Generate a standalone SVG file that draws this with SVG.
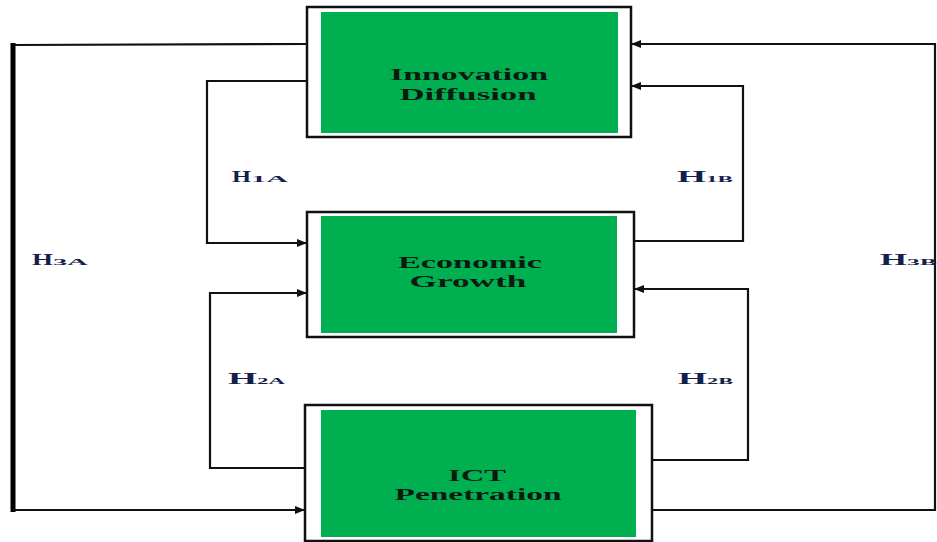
<svg xmlns="http://www.w3.org/2000/svg" width="937" height="542" viewBox="0 0 937 542">
  <style>
    .frame { fill: #ffffff; stroke: #111111; stroke-width: 2.5; }
    .fill { fill: #00b050; }
    .node-text { font-family: "Liberation Serif", "Times New Roman", serif; font-weight: bold; font-size: 17px; fill: #0d1a12; text-anchor: middle; }
    .wire { fill: none; stroke: #111111; stroke-width: 2.2; }
    .wire-thick { fill: none; stroke: #000000; stroke-width: 5; }
    .lbl { font-family: "Liberation Serif", "Times New Roman", serif; font-weight: bold; font-size: 17px; fill: #15204a; }
    .sub { font-size: 9px; }
  </style>
  <defs>
    <marker id="arrow" markerUnits="userSpaceOnUse" markerWidth="10" markerHeight="8" refX="10" refY="4" orient="auto">
      <path d="M0,0 L10,4 L0,8 Z" fill="#111111"/>
    </marker>
  </defs>

  <!-- connectors -->
  <g id="connectors">
    <!-- H3A: Innovation Diffusion -> ICT Penetration, outer left loop -->
    <polyline class="wire" points="307,44 13,45"/>
    <line class="wire-thick" x1="13" y1="43" x2="13" y2="512"/>
    <polyline class="wire" points="13,510 305,510" marker-end="url(#arrow)"/>
    <!-- H1A: Innovation Diffusion -> Economic Growth -->
    <polyline class="wire" points="307,81 207,81 207,243 307,243" marker-end="url(#arrow)"/>
    <!-- H2A: ICT Penetration -> Economic Growth -->
    <polyline class="wire" points="305,468 210,468 210,293 307,293" marker-end="url(#arrow)"/>
    <!-- H1B: Economic Growth -> Innovation Diffusion -->
    <polyline class="wire" points="634,241 743,241 743,86 631,86" marker-end="url(#arrow)"/>
    <!-- H2B: ICT Penetration -> Economic Growth -->
    <polyline class="wire" points="652,460 748,460 748,289 634,289" marker-end="url(#arrow)"/>
    <!-- H3B: ICT Penetration -> Innovation Diffusion, outer right loop -->
    <polyline class="wire" points="652,510 935,510 935,44 631,44" marker-end="url(#arrow)"/>
  </g>

  <!-- labels -->
  <g id="labels">
    <text class="lbl" x="232" y="182"><tspan textLength="19" lengthAdjust="spacingAndGlyphs">H</tspan><tspan class="sub" textLength="37" lengthAdjust="spacingAndGlyphs">1A</tspan></text>
    <text class="lbl" x="677" y="182"><tspan textLength="29" lengthAdjust="spacingAndGlyphs">H</tspan><tspan class="sub" textLength="27" lengthAdjust="spacingAndGlyphs">1B</tspan></text>
    <text class="lbl" x="32" y="265"><tspan textLength="21" lengthAdjust="spacingAndGlyphs">H</tspan><tspan class="sub" textLength="35" lengthAdjust="spacingAndGlyphs">3A</tspan></text>
    <text class="lbl" x="880" y="265"><tspan textLength="27" lengthAdjust="spacingAndGlyphs">H</tspan><tspan class="sub" textLength="30" lengthAdjust="spacingAndGlyphs">3B</tspan></text>
    <text class="lbl" x="228" y="384"><tspan textLength="29" lengthAdjust="spacingAndGlyphs">H</tspan><tspan class="sub" textLength="28" lengthAdjust="spacingAndGlyphs">2A</tspan></text>
    <text class="lbl" x="678" y="384"><tspan textLength="29" lengthAdjust="spacingAndGlyphs">H</tspan><tspan class="sub" textLength="26" lengthAdjust="spacingAndGlyphs">2B</tspan></text>
  </g>

  <!-- nodes -->
  <g id="innovation-diffusion">
    <rect class="frame" x="307" y="7" width="324" height="130"/>
    <rect class="fill" x="321" y="12" width="297" height="121"/>
    <text class="node-text" x="469" y="80" textLength="158" lengthAdjust="spacingAndGlyphs">Innovation</text>
    <text class="node-text" x="468" y="100" textLength="137" lengthAdjust="spacingAndGlyphs">Diffusion</text>
  </g>

  <g id="economic-growth">
    <rect class="frame" x="307" y="212" width="327" height="125"/>
    <rect class="fill" x="321" y="216" width="296" height="117"/>
    <text class="node-text" x="470" y="268" textLength="144" lengthAdjust="spacingAndGlyphs">Economic</text>
    <text class="node-text" x="468" y="287" textLength="117" lengthAdjust="spacingAndGlyphs">Growth</text>
  </g>

  <g id="ict-penetration">
    <rect class="frame" x="305" y="405" width="347" height="136"/>
    <rect class="fill" x="321" y="410" width="315" height="127"/>
    <text class="node-text" x="477" y="481" textLength="58" lengthAdjust="spacingAndGlyphs">ICT</text>
    <text class="node-text" x="478" y="500" textLength="167" lengthAdjust="spacingAndGlyphs">Penetration</text>
  </g>
</svg>
